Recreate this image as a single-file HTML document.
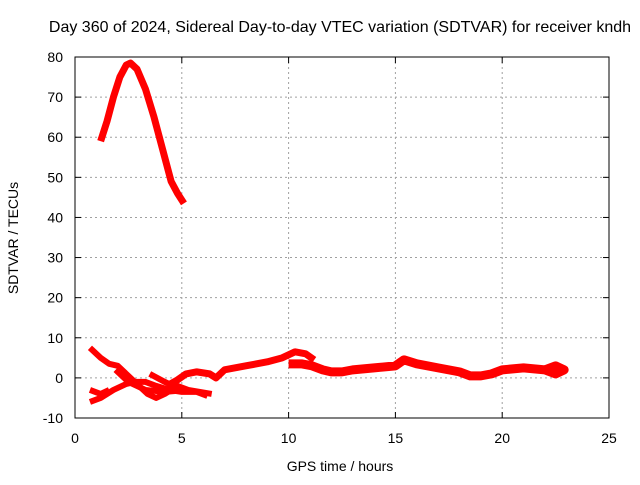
<!DOCTYPE html>
<html><head><meta charset="utf-8"><style>
body{margin:0;background:#fff}
svg text{font-family:"Liberation Sans",sans-serif;font-size:14px;fill:#000}
</style></head><body>
<svg id="c" width="640" height="480">
<rect width="640" height="480" fill="#fff"/>
<text x="340" y="32" text-anchor="middle" style="font-size:16px">Day 360 of 2024, Sidereal Day-to-day VTEC variation (SDTVAR) for receiver kndh</text>
<text x="340" y="471" text-anchor="middle">GPS time / hours</text>
<text transform="translate(18,238) rotate(-90)" text-anchor="middle">SDTVAR / TECUs</text>
<g id="grid"></g><g id="series"></g>
<rect x="75" y="57" width="534" height="361" fill="none" stroke="#000"/>
</svg>
<script>
const xTicks=[0,5,10,15,20,25];
const yTicks=[-10,0,10,20,30,40,50,60,70,80];
const seriesArc=[[1.2,59],[1.5,64],[1.8,70],[2.1,75],[2.4,78],[2.6,78.5],[2.9,77],[3.3,72],[3.7,65],[4.1,57],[4.5,49],[4.8,46],[5.1,43.5]];
const seriesDesc=[[0.7,7.5],[1.2,5],[1.6,3.5],[2.0,3],[2.4,1],[2.9,-1.5],[3.4,-4],[3.8,-5],[4.2,-4],[4.8,-2],[5.3,-3],[6.4,-4]];
const seriesLow=[[0.7,-6],[1.2,-5],[1.8,-3],[2.4,-1.5],[2.8,-1],[3.3,-1],[3.8,-2],[4.4,-3],[5,-3.5],[5.7,-3.5],[6.2,-4.5]];
const seriesCross=[[1.9,2],[2.5,-1],[3.3,-3],[4.2,-3.5],[5.3,-3]];
const seriesRise=[[3.5,1],[4.2,-1],[4.8,-2.5]];
const seriesStart=[[0.7,-3],[1.2,-4],[1.6,-3]];
const seriesMain=[[4.3,-2],[4.8,-0.5],[5.2,1],[5.7,1.5],[6.3,1],[6.6,0],[7,2],[8,3],[9,4],[9.7,5],[10.3,6.5],[10.8,6],[11.2,4.5]];
const seriesTail=[[10,3.5],[10.6,3.5],[11.1,3],[11.6,2],[12,1.5],[12.5,1.5],[13,2],[14,2.5],[15,3],[15.4,4.5],[16,3.5],[17,2.5],[18,1.5],[18.5,0.5],[19,0.5],[19.5,1],[20,2],[21,2.5],[22,2],[22.5,3],[22.9,2],[22.5,1],[22,2]];
const allSeries=[seriesArc,seriesDesc,seriesLow,seriesCross,seriesRise,seriesStart,seriesMain,seriesTail];
const widths=[7,6,6,6,6,6,7,9];
const X=h=>75+h*534/25, Y=v=>57+(80-v)*361/90;
const NS='http://www.w3.org/2000/svg';
const g=document.getElementById('grid'), s=document.getElementById('series');
function mk(p,t,a){const e=document.createElementNS(NS,t);for(const k in a)e.setAttribute(k,a[k]);p.appendChild(e);return e;}
xTicks.forEach(t=>{
 if(t>0&&t<25){const l=mk(g,'line',{x1:X(t),x2:X(t),y1:57,y2:418,stroke:'#a0a0a0','stroke-dasharray':'2,3'});
 
 }
 mk(g,'line',{x1:X(t),x2:X(t),y1:418,y2:412,stroke:'#000'});
 mk(g,'line',{x1:X(t),x2:X(t),y1:57,y2:63,stroke:'#000'});
 const tx=mk(g,'text',{x:X(t),y:443,'text-anchor':'middle'});tx.textContent=t;
 
 
});
yTicks.forEach(t=>{
 if(t>-10&&t<80){const l=mk(g,'line',{x1:75,x2:609,y1:Y(t),y2:Y(t),stroke:'#a0a0a0','stroke-dasharray':'2,3'});
 
 }
 mk(g,'line',{x1:75,x2:81,y1:Y(t),y2:Y(t),stroke:'#000'});
 mk(g,'line',{x1:603,x2:609,y1:Y(t),y2:Y(t),stroke:'#000'});
 const tx=mk(g,'text',{x:63,y:Y(t)+5,'text-anchor':'end'});tx.textContent=t;
 
 
});
allSeries.forEach((d,i)=>{
 const p=mk(s,'polyline',{points:d.map(q=>X(q[0])+','+Y(q[1])).join(' '),fill:'none',stroke:'#ff0000','stroke-width':widths[i],'stroke-linejoin':'round'});
 
 
});
</script>
</body></html>
